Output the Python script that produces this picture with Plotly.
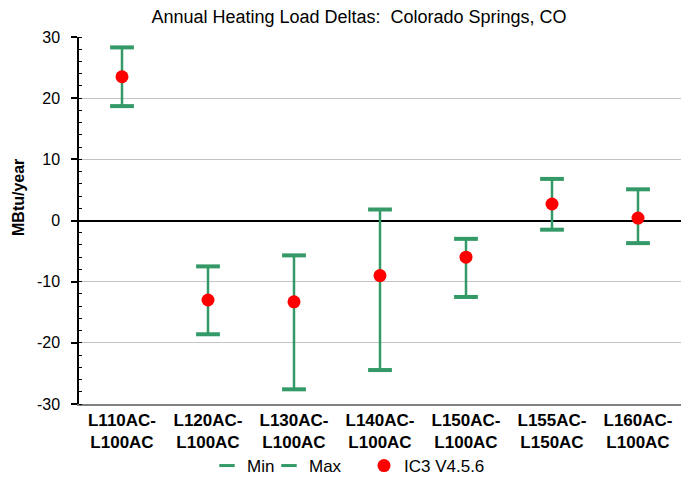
import plotly.graph_objects as go

categories = ["L110AC-<br>L100AC", "L120AC-<br>L100AC", "L130AC-<br>L100AC", "L140AC-<br>L100AC",
              "L150AC-<br>L100AC", "L155AC-<br>L150AC", "L160AC-<br>L100AC"]
min_vals = [18.7, -18.6, -27.6, -24.45, -12.5, -1.5, -3.7]
max_vals = [28.3, -7.5, -5.7, 1.8, -3.0, 6.8, 5.1]
ic3_vals = [23.5, -13.0, -13.3, -9.0, -6.0, 2.7, 0.4]
y_ticks = [-30, -20, -10, 0, 10, 20, 30]
y_tick_text = ["-30", "-20", "-10", "0", "10", "20", "30"]

GREEN = "#339966"
RED = "#FF0000"
FONT = "Liberation Sans, Arial, sans-serif"

xs = list(range(len(categories)))

# vertical connecting lines between Min and Max
lx, ly = [], []
for i in xs:
    lx += [i, i, None]
    ly += [min_vals[i], max_vals[i], None]

fig = go.Figure()
fig.add_trace(go.Scatter(x=lx, y=ly, mode="lines", line=dict(color=GREEN, width=2.5),
                         showlegend=False, hoverinfo="skip"))
fig.add_trace(go.Scatter(x=xs, y=min_vals, mode="markers", name="Min",
                         marker=dict(symbol="line-ew", size=17, color=GREEN,
                                     line=dict(color=GREEN, width=4)),
                         showlegend=False))
fig.add_trace(go.Scatter(x=xs, y=max_vals, mode="markers", name="Max",
                         marker=dict(symbol="line-ew", size=17, color=GREEN,
                                     line=dict(color=GREEN, width=4)),
                         showlegend=False))
fig.add_trace(go.Scatter(x=xs, y=ic3_vals, mode="markers", name="IC3 V4.5.6",
                         marker=dict(symbol="circle", size=13, color=RED, line=dict(width=0)),
                         showlegend=False))
# legend entries
fig.add_trace(go.Scatter(x=[None], y=[None], mode="markers", name="Min",
                         marker=dict(symbol="line-ew", size=11, color=GREEN,
                                     line=dict(color=GREEN, width=3)),
                         legend="legend"))
fig.add_trace(go.Scatter(x=[None], y=[None], mode="markers", name="Max",
                         marker=dict(symbol="line-ew", size=11, color=GREEN,
                                     line=dict(color=GREEN, width=3)),
                         legend="legend2"))
fig.add_trace(go.Scatter(x=[None], y=[None], mode="markers", name="IC3 V4.5.6",
                         marker=dict(symbol="circle", size=13, color=RED, line=dict(width=0)),
                         legend="legend3"))

PLOT_L, PLOT_W, PLOT_T, PLOT_H = 79, 602, 37, 367


def px_x(px):
    return (px - PLOT_L) / PLOT_W


def px_y(py):
    return (PLOT_T + PLOT_H - py) / PLOT_H


leg_common = dict(orientation="h", xanchor="left", yanchor="middle", y=px_y(466),
                  font=dict(size=17, family=FONT, color="black"), itemwidth=30,
                  bgcolor="rgba(0,0,0,0)")

fig.update_layout(
    width=681, height=480,
    margin=dict(l=PLOT_L, r=0, t=PLOT_T, b=480 - PLOT_T - PLOT_H, autoexpand=False),
    paper_bgcolor="white", plot_bgcolor="white",
    font=dict(family=FONT, size=16, color="black"),
    title=dict(text="Annual Heating Load Deltas:\u00a0 Colorado Springs, CO",
               x=359 / 681, xref="container", xanchor="center",
               y=0.965, yref="container", yanchor="middle",
               font=dict(size=18, family=FONT, color="black")),
    legend=dict(x=px_x(247 - 40), **leg_common),
    legend2=dict(x=px_x(309 - 40), **leg_common),
    legend3=dict(x=px_x(404 - 40), **leg_common),
    xaxis=dict(range=[-0.5, 6.5], tickmode="array", tickvals=xs, ticktext=categories,
               showgrid=False, zeroline=False, showline=True, linecolor="#808080",
               linewidth=1.5, ticks="", automargin=False,
               tickfont=dict(size=17, family=FONT, color="black", weight="bold")),
    yaxis=dict(range=[-30, 30], tickmode="array", tickvals=y_ticks, ticktext=y_tick_text,
               showgrid=True, gridcolor="#c4c4c4", gridwidth=1.2,
               zeroline=True, zerolinecolor="black", zerolinewidth=1.5,
               showline=True, linecolor="black", linewidth=1.5,
               ticks="outside", ticklen=6, tickwidth=1.5, tickcolor="black",
               ticklabelstandoff=8, automargin=False,
               minor=dict(tickmode="linear", dtick=2, ticks="inside", ticklen=3,
                          tickcolor="black", tickwidth=1, showgrid=False),
               tickfont=dict(size=16, family=FONT, color="black")),
    annotations=[dict(text="MBtu/year", textangle=-90, xref="paper", yref="paper",
                      x=px_x(18), y=px_y(198), xanchor="center", yanchor="middle",
                      showarrow=False,
                      font=dict(size=16, family=FONT, color="black", weight="bold"))],
)

fig.write_html("out.html", config={"displayModeBar": False},
               post_script="document.body.style.margin='0px';")
